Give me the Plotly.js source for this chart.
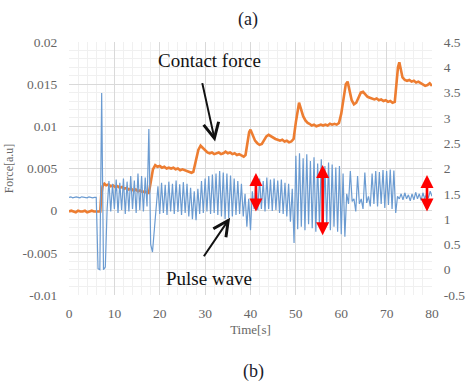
<!DOCTYPE html>
<html><head><meta charset="utf-8">
<script src="https://cdn.plot.ly/plotly-3.0.1.min.js"></script>
<style>html,body{margin:0;padding:0;background:#fff}#chart{width:465px;height:383px}</style>
</head><body><div id="chart"></div>
<script>
// Contact force (left axis, a.u.)
const forceT = [0,0.5,1,1.5,2,2.5,3,3.5,4,4.5,5,5.5,6,6.5,6.9,
 7.1,7.4,7.8,8.2,8.7,9.2,9.7,10.2,10.7,11.2,11.7,12.2,12.7,13.2,13.7,14.2,14.7,15.2,15.7,16.2,16.7,17.2,17.6,
 18.0,18.5,19.0,19.5,20,20.5,21,21.5,22,22.5,23,23.5,24,24.5,25,25.5,26,26.5,27,27.4,
 28.0,28.5,29,29.5,30,30.5,31,31.5,32,32.5,33,33.5,34,34.5,35,35.5,36,36.5,37,37.5,38,38.5,38.9,
 39.3,39.7,40.0,40.5,41,41.5,42,42.5,43,43.5,44,44.5,45,45.5,46,46.5,47,47.5,48,48.5,49,49.5,
 50.0,50.4,50.7,51.1,51.6,52.1,52.6,53,53.5,54,54.5,55,55.5,56,56.5,57,57.5,58,58.5,59,59.5,
 60.0,60.5,61.0,61.4,61.8,62.3,62.8,63.3,63.8,64.3,64.8,65.3,65.8,66.3,66.8,67.3,67.8,68.3,68.8,69.3,69.8,70.3,70.8,71.3,71.8,
 72.2,72.5,72.8,73.1,73.5,74,74.5,75,75.5,76,76.5,77,77.5,78,78.5,79,79.5,80];
const forceV = [-0.0001,0.0000,-0.0001,-0.0002,0.0000,-0.0001,-0.0001,0.0000,-0.0002,-0.0001,0.0000,-0.0001,-0.0001,-0.0001,-0.0001,
 0.0018,0.0029,0.0032,0.0030,0.0031,0.0029,0.0030,0.0028,0.0029,0.0027,0.0028,0.0026,0.0027,0.0025,0.0026,0.0024,0.0025,0.0023,0.0024,0.0022,0.0023,0.0021,0.0021,
 0.0035,0.0049,0.0054,0.0052,0.0053,0.0051,0.0052,0.0050,0.0051,0.0050,0.0051,0.0049,0.0050,0.0048,0.0049,0.0048,0.0047,0.0046,0.0045,0.0046,
 0.0060,0.0072,0.0077,0.0074,0.0071,0.0069,0.0068,0.0069,0.0067,0.0068,0.0069,0.0067,0.0068,0.0070,0.0068,0.0069,0.0067,0.0068,0.0066,0.0067,0.0065,0.0064,0.0066,
 0.0080,0.0093,0.0096,0.0090,0.0083,0.0080,0.0078,0.0079,0.0083,0.0088,0.0090,0.0088,0.0086,0.0085,0.0084,0.0083,0.0084,0.0082,0.0083,0.0081,0.0082,0.0085,
 0.0105,0.0122,0.0128,0.0121,0.0112,0.0107,0.0104,0.0103,0.0101,0.0102,0.0100,0.0101,0.0102,0.0101,0.0102,0.0101,0.0103,0.0102,0.0103,0.0102,0.0104,
 0.0115,0.0135,0.0150,0.0153,0.0143,0.0131,0.0126,0.0128,0.0134,0.0140,0.0141,0.0138,0.0135,0.0134,0.0133,0.0132,0.0133,0.0131,0.0132,0.0130,0.0131,0.0129,0.0130,0.0128,0.0129,
 0.0150,0.0170,0.0176,0.0168,0.0158,0.0155,0.0154,0.0155,0.0153,0.0154,0.0152,0.0153,0.0151,0.0150,0.0148,0.0149,0.0151,0.0148];

// Pulse wave (right axis)
const pulseT = [0,0.4,0.8,1.2,1.6,2,2.4,2.8,3.2,3.6,4,4.4,4.8,5.2,5.6,6,6.4,6.8,7.2,7.6,
 8,8.4,8.8,9.2,9.6,10,10.4,10.8,11.2,11.6,12,12.4,12.8,13.2,13.6,14,14.4,14.8,15.2,15.6,
 16,16.4,16.8,17.2,17.6,18,18.4,18.8,19.2,19.6,20,20.4,20.8,21.2,21.6,22,22.4,22.8,23.2,23.6,
 24,24.4,24.8,25.2,25.6,26,26.4,26.8,27.2,27.6,28,28.4,28.8,29.2,29.6,30,30.4,30.8,31.2,31.6,
 32,32.4,32.8,33.2,33.6,34,34.4,34.8,35.2,35.6,36,36.4,36.8,37.2,37.6,38,38.4,38.8,39.2,39.6,
 40,40.4,40.8,41.2,41.6,42,42.4,42.8,43.2,43.6,44,44.4,44.8,45.2,45.6,46,46.4,46.8,47.2,47.6,
 48,48.4,48.8,49.2,49.6,50,50.4,50.8,51.2,51.6,52,52.4,52.8,53.2,53.6,54,54.4,54.8,55.2,55.6,
 56,56.4,56.8,57.2,57.6,58,58.4,58.8,59.2,59.6,60,60.4,60.8,61.2,61.6,62,62.4,62.8,63.2,63.6,
 64,64.4,64.8,65.2,65.6,66,66.4,66.8,67.2,67.6,68,68.4,68.8,69.2,69.6,70,70.4,70.8,71.2,71.6,
 72,72.4,72.8,73.2,73.6,74,74.4,74.8,75.2,75.6,76,76.4,76.8,77.2,77.6,78,78.4,78.8,79.2,79.6,80];
const pulseV = [1.43,1.44,1.42,1.43,1.44,1.43,1.42,1.44,1.43,1.43,1.42,1.44,1.43,1.42,1.43,1.43,0.02,0.0,3.49,0.0,
 0.05,1.2,1.75,1.15,1.7,1.2,1.78,1.12,1.72,1.18,1.8,1.1,1.74,1.15,1.85,1.2,1.76,1.12,1.9,1.18,
 1.85,1.15,1.82,1.25,2.78,0.5,0.35,0.8,1.2,1.65,1.1,1.72,1.12,1.68,1.08,1.74,1.15,1.7,1.1,1.76,
 1.14,1.69,1.08,1.73,1.12,1.7,1.05,1.62,1.0,1.55,0.98,1.6,1.1,1.75,1.12,1.8,1.15,1.85,1.1,1.88,
 1.12,1.9,1.08,1.95,1.05,1.92,1.0,1.9,1.02,1.86,1.05,1.8,1.08,1.75,1.1,1.7,1.05,1.5,0.85,1.4,
 0.78,1.55,1.2,1.78,1.18,1.8,1.2,1.75,1.15,1.82,1.2,1.78,1.16,1.8,1.18,1.76,1.12,1.78,1.1,1.72,
 1.05,1.7,0.95,1.6,0.53,2.25,0.8,2.3,0.85,2.2,0.78,2.28,0.9,2.15,0.82,2.22,0.75,2.1,0.85,2.18,
 0.8,2.05,0.88,2.12,0.78,2.08,0.85,2.02,0.75,2.05,0.7,1.9,0.65,1.5,1.3,1.95,1.35,1.4,1.15,1.85,
 1.3,1.4,1.2,1.92,1.32,1.45,1.25,1.9,1.3,1.95,1.25,1.93,1.3,1.97,1.22,1.95,1.28,1.98,1.2,1.96,
 1.12,1.45,1.4,1.5,1.38,1.52,1.4,1.48,1.36,1.5,1.38,1.53,1.4,1.5,1.37,1.52,1.4,1.5,1.42,1.55,1.45];

const leftTicks = [-0.01,-0.005,0,0.005,0.01,0.015,0.02];
const leftLabels = ['-0.01','-0.005','0','0.005','0.01','0.015','0.02'];
const rightTicks = [-0.5,0,0.5,1,1.5,2,2.5,3,3.5,4,4.5];
const rightLabels = ['-0.5','0','0.5','1','1.5','2','2.5','3','3.5','4','4.5'];
const xTicks = [0,10,20,30,40,50,60,70,80];

// Red double arrows (time, top, bottom) on pulse axis
const ampArrows = [[41.2,1.91,1.12],[55.9,2.07,0.65],[78.9,1.87,1.12]];

const serif = '"Liberation Serif", "Times New Roman", serif';
const gray = '#666666';

const traces = [
 {x: forceT, y: forceV, type:'scatter', mode:'lines', yaxis:'y', line:{color:'#ed7d31', width:2.6}, hoverinfo:'skip'},
 {x: pulseT, y: pulseV, type:'scatter', mode:'lines', yaxis:'y2', line:{color:'#6b9bd1', width:1.2}, hoverinfo:'skip'}
];

const annotations = [
 {xref:'paper', yref:'paper', x:0.493, y:1.0, yanchor:'middle', yshift:23, text:'(a)', showarrow:false, font:{family:serif, size:18, color:'#1a1a2a'}},
 {xref:'paper', yref:'paper', x:0.508, y:0, yanchor:'middle', yshift:-76, text:'(b)', showarrow:false, font:{family:serif, size:18, color:'#1a1a2a'}},
 {xref:'x', yref:'y', x:31.05, y:0.0178, text:'Contact force', showarrow:false, font:{family:serif, size:19, color:'#111'}},
 {xref:'x', yref:'y', x:30.8, y:-0.0081, text:'Pulse wave', showarrow:false, font:{family:serif, size:19, color:'#111'}},
 {xref:'x', yref:'y', axref:'x', ayref:'y', x:32.2, y:0.0082, ax:29.3, ay:0.0153, text:'', showarrow:true, arrowhead:5, arrowsize:1.5, arrowwidth:2, arrowcolor:'#111'},
 {xref:'x', yref:'y', axref:'x', ayref:'y', x:35.5, y:-0.00083, ax:29.5, ay:-0.00558, text:'', showarrow:true, arrowhead:5, arrowsize:1.5, arrowwidth:2, arrowcolor:'#111'}
];
ampArrows.forEach(a => {
 annotations.push({xref:'x', yref:'y2', axref:'x', ayref:'y2', x:a[0], y:a[1], ax:a[0], ay:a[2], text:'', showarrow:true,
  arrowhead:2, arrowside:'end+start', arrowsize:1, arrowwidth:2.6, arrowcolor:'#ff0000'});
});

const layout = {
 width:465, height:383,
 margin:{l:69, r:33, t:42, b:88},
 paper_bgcolor:'#fff', plot_bgcolor:'#fff',
 showlegend:false,
 xaxis:{range:[0,80], tickvals:xTicks, ticktext:xTicks.map(String), showgrid:true, gridcolor:'#d9d9d9', gridwidth:1,
  minor:{dtick:2, showgrid:true, gridcolor:'#f0f0f0'}, zeroline:false, showline:false,
  ticks:'outside', ticklen:6, tickcolor:'rgba(0,0,0,0)',
  tickfont:{family:serif, size:13.5, color:gray},
  title:{text:'Time[s]', font:{family:serif, size:13, color:gray}, standoff:4}},
 yaxis:{range:[-0.01,0.02], tickvals:leftTicks, ticktext:leftLabels, showgrid:true, gridcolor:'#d9d9d9', gridwidth:1,
  minor:{dtick:0.001, showgrid:true, gridcolor:'#f0f0f0'}, zeroline:false, showline:false,
  ticks:'outside', ticklen:8, tickcolor:'rgba(0,0,0,0)',
  tickfont:{family:serif, size:13.5, color:gray},
  title:{text:'Force[a.u]', font:{family:serif, size:12, color:gray}, standoff:6}},
 yaxis2:{range:[-0.5,4.5], overlaying:'y', side:'right', tickvals:rightTicks, ticktext:rightLabels, showgrid:false,
  zeroline:false, showline:false, ticks:'outside', ticklen:8, tickcolor:'rgba(0,0,0,0)',
  tickfont:{family:serif, size:13.5, color:gray}},
 annotations: annotations
};

Plotly.newPlot('chart', traces, layout, {staticPlot:true, displayModeBar:false});
</script>
</body></html>
